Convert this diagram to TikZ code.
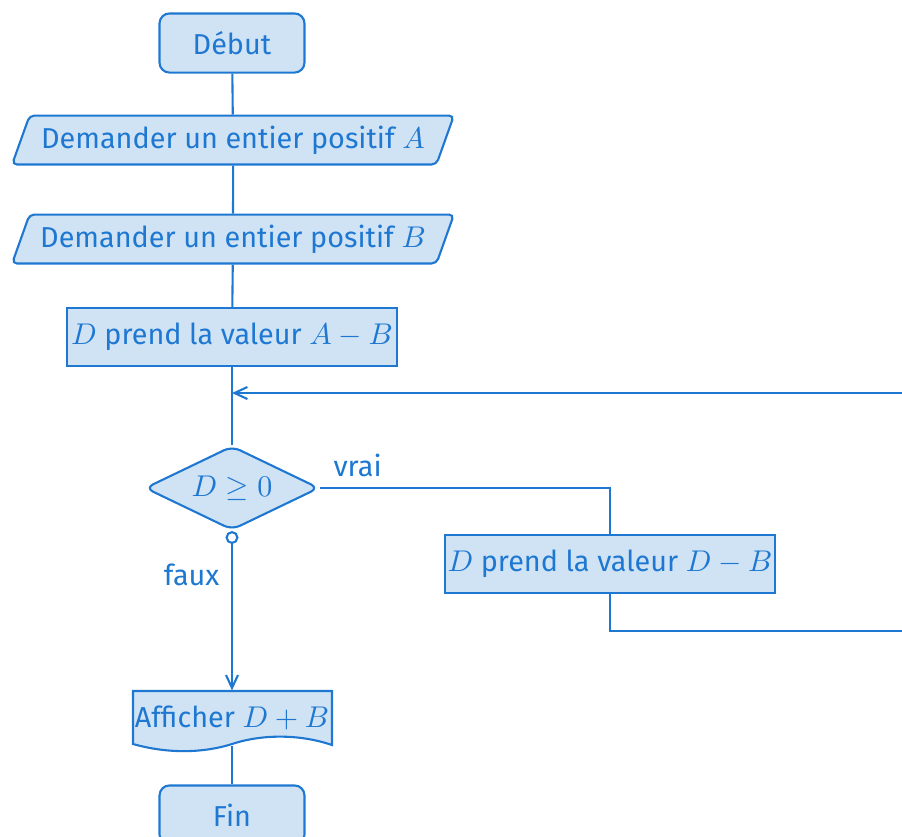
\documentclass[tikz,border=0pt]{standalone}
\usepackage{fontspec}
\setmainfont{Fira Sans}
\usetikzlibrary{shapes.geometric,arrows.meta}
\definecolor{flow}{RGB}{30,120,210}
\definecolor{flowfill}{RGB}{208,227,244}

\begin{document}
\begin{tikzpicture}[x=0.3333pt,y=-0.3333pt,
  font=\fontsize{9.6}{11.5}\selectfont,
  base/.style={draw=flow, fill=flowfill, text=flow, line width=0.7pt, inner sep=0pt},
  terminal/.style={base, rectangle, rounded corners=3.3pt, minimum width=48.3pt, minimum height=19.7pt},
  io/.style={base, trapezium, trapezium left angle=60, trapezium right angle=120,
    trapezium stretches, rounded corners=1.6pt, minimum width=147.5pt, minimum height=16.3pt},
  process/.style={base, rectangle, minimum width=109.7pt, minimum height=19.3pt},
  decision/.style={base, diamond, aspect=2, rounded corners=2.8pt, minimum width=58pt, minimum height=28pt},
  display/.style={text=flow, inner sep=0pt, minimum width=66.3pt, minimum height=18pt},
  link/.style={draw=flow, line width=0.7pt},
  tag/.style={text=flow, inner sep=0pt},
  >={Straight Barb[length=4.3pt, width=4pt]}
]
\useasboundingbox (0,0) rectangle (902,836);

% output box: flat top, wavy bottom edge
\fill[flowfill] (133,691) -- (332,691) -- (332,745)
  .. controls (300,734) and (262,734) .. (232,744)
  .. controls (200,754) and (165,753) .. (133,744) -- cycle;
\draw[link] (133,691) -- (332,691) -- (332,745)
  .. controls (300,734) and (262,734) .. (232,744)
  .. controls (200,754) and (165,753) .. (133,744) -- cycle;

% nodes of the flowchart
\node[terminal] (start) at (232,43) {Début};
\node[io] (inA) at (233,140) {Demander un entier positif $A$};
\node[io] (inB) at (233,239) {Demander un entier positif $B$};
\node[process] (diff) at (232,337) {$D$ prend la valeur $A-B$};
\node[decision] (test) at (232,488) {$D\geq 0$};
\node[process] (step) at (610,564) {$D$ prend la valeur $D-B$};
\node[display] (show) at (232,718) {Afficher $D+B$};
\node[terminal] (stop) at (232,815) {Fin};

% loop helpers
\coordinate (back) at (232,393);
\coordinate (far) at (940,631);

% connectors
\draw[link] (start) -- (inA);
\draw[link] (inA) -- (inB);
\draw[link] (inB) -- (diff);
\draw[link] (diff) -- (test);
\draw[link] (test.east) -| (step.north);
\node[tag, anchor=south west] (yes) at ([xshift=4.3pt, yshift=3.5pt]test.east) {vrai};
\draw[link, ->] (step.south) |- (far) |- (back);
\draw[link, {Circle[open, length=4.3pt, width=4.3pt]}->] (test.south) -- (show.north);
\node[tag, anchor=east] (no) at ([xshift=-4pt, yshift=-14.7pt]test.south) {faux};
\draw[link] (show.south) -- (stop);
\end{tikzpicture}
\end{document}
